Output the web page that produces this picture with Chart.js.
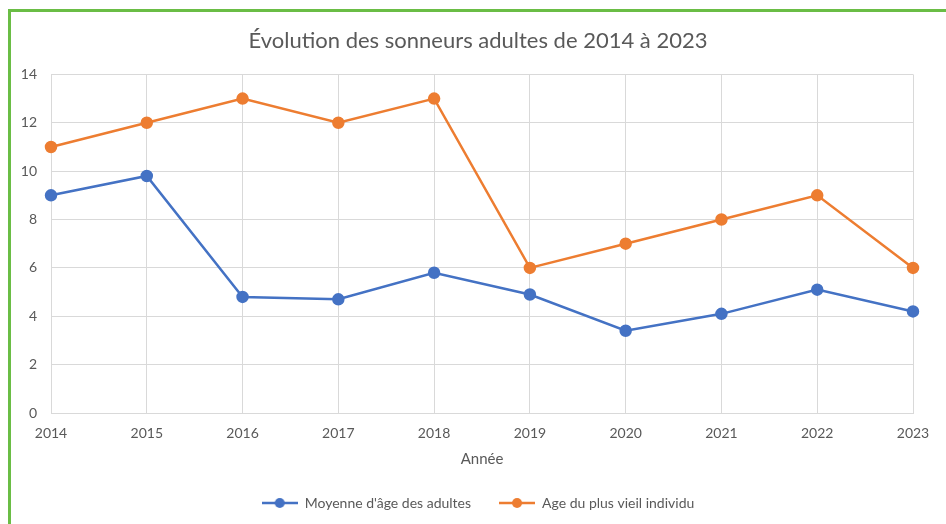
<!DOCTYPE html>
<html>
<head>
<meta charset="utf-8">
<script src="https://cdn.jsdelivr.net/npm/chart.js@4"></script>
<style>
  html, body { margin: 0; padding: 0; background: #fff; overflow: hidden; }
  #frame { position: absolute; left: 8px; top: 9px; width: 960px; height: 540px; border: 3px solid #6abd45; }
  #wrap { position: absolute; left: 0; top: 0; width: 946px; height: 524px; }
</style>
</head>
<body>
<div id="frame"></div>
<div id="wrap"><canvas id="chart"></canvas></div>
<script>
const years = ['2014', '2015', '2016', '2017', '2018', '2019', '2020', '2021', '2022', '2023'];
const moyenneAge = [9, 9.8, 4.8, 4.7, 5.8, 4.9, 3.4, 4.1, 5.1, 4.2];
const plusVieil = [11, 12, 13, 12, 13, 6, 7, 8, 9, 6];
const yTicks = [0, 2, 4, 6, 8, 10, 12, 14];

const BLUE = '#4472c4';
const ORANGE = '#ed7d31';
const TEXT = '#595959';
const FONT = 'Lato, "Liberation Sans", sans-serif';

// little "line with a dot" icon like the Excel legend
function legendIcon(color) {
  const c = document.createElement('canvas');
  c.width = 36; c.height = 12;
  const g = c.getContext('2d');
  g.strokeStyle = color;
  g.lineWidth = 2.5;
  g.beginPath();
  g.moveTo(0, 6); g.lineTo(36, 6);
  g.stroke();
  g.fillStyle = color;
  g.beginPath();
  g.arc(18, 6, 5, 0, Math.PI * 2);
  g.fill();
  return c;
}
const icons = [legendIcon(BLUE), legendIcon(ORANGE)];

new Chart(document.getElementById('chart'), {
  type: 'line',
  data: {
    labels: years,
    datasets: [
      {
        label: "Moyenne d'âge des adultes",
        data: moyenneAge,
        borderColor: BLUE,
        backgroundColor: BLUE,
        borderWidth: 2.5,
        pointRadius: 5,
        pointHoverRadius: 5,
        fill: false,
        tension: 0
      },
      {
        label: 'Age du plus vieil individu',
        data: plusVieil,
        borderColor: ORANGE,
        backgroundColor: ORANGE,
        borderWidth: 2.5,
        pointRadius: 5,
        pointHoverRadius: 5,
        fill: false,
        tension: 0
      }
    ]
  },
  options: {
    responsive: true,
    maintainAspectRatio: false,
    animation: false,
    layout: { padding: { left: 10, right: 0, top: 0, bottom: 4 } },
    scales: {
      x: {
        offset: false,
        grid: { color: '#d9d9d9', lineWidth: 1, drawTicks: false },
        border: { color: '#d9d9d9' },
        afterFit: (scale) => { scale.height = 55; },
        ticks: { color: TEXT, font: { family: FONT, size: 14 }, padding: 12, maxRotation: 0, autoSkip: false },
        title: { display: true, text: 'Année', color: TEXT, font: { family: FONT, size: 15 }, padding: { top: 0, bottom: 0 } }
      },
      y: {
        min: 0,
        max: 14,
        afterBuildTicks: (scale) => { scale.ticks = yTicks.map(v => ({ value: v })); },
        afterFit: (scale) => { scale.width = 41; },
        grid: { color: '#d9d9d9', lineWidth: 1, drawTicks: false },
        border: { display: false },
        ticks: { color: TEXT, font: { family: FONT, size: 14 }, padding: 14 }
      },
      // empty right-hand axis, only reserves the space right of the plot
      y2: {
        position: 'right',
        grid: { display: false },
        border: { display: false },
        ticks: { display: false },
        afterFit: (scale) => { scale.width = 33; }
      }
    },
    plugins: {
      title: {
        display: true,
        text: 'Évolution des sonneurs adultes de 2014 à 2023',
        color: TEXT,
        font: { family: FONT, size: 22, weight: 'normal' },
        padding: { top: 28, bottom: 20 }
      },
      legend: {
        position: 'bottom',
        labels: {
          color: TEXT,
          font: { family: FONT, size: 14 },
          usePointStyle: true,
          pointStyleWidth: 36,
          padding: 28,
          generateLabels: (chart) => {
            const items = Chart.defaults.plugins.legend.labels.generateLabels(chart);
            items.forEach((it, i) => { it.pointStyle = icons[i]; });
            return items;
          }
        }
      },
      tooltip: { enabled: false }
    }
  }
});
</script>
</body>
</html>
